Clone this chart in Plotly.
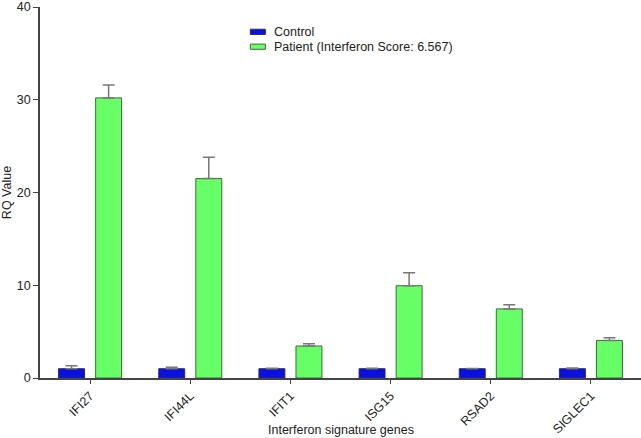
import plotly.graph_objects as go

genes = ["IFI27", "IFI44L", "IFIT1", "ISG15", "RSAD2", "SIGLEC1"]
control = [1.0, 1.0, 1.0, 1.0, 1.0, 1.0]
control_err = [0.33, 0.15, 0.04, 0.06, 0.02, 0.08]
patient = [30.2, 21.5, 3.45, 9.95, 7.45, 4.05]
patient_err = [1.4, 2.3, 0.25, 1.4, 0.45, 0.3]
series_names = ["Control", "Patient (Interferon Score: 6.567)"]
colors = ["#0a10e0", "#66ff66"]
edges = ["#2a2a6a", "#3f6a3f"]

fig = go.Figure()
fig.add_trace(go.Bar(
    x=genes, y=control, name=series_names[0],
    marker=dict(color=colors[0], line=dict(color=edges[0], width=1)),
    error_y=dict(type="data", array=control_err, symmetric=False, arrayminus=[0]*6,
                 color="#777777", thickness=1.5, width=6),
))
fig.add_trace(go.Bar(
    x=genes, y=patient, name=series_names[1],
    marker=dict(color=colors[1], line=dict(color=edges[1], width=1)),
    error_y=dict(type="data", array=patient_err, symmetric=False, arrayminus=[0]*6,
                 color="#777777", thickness=1.5, width=6),
))

# manual legend (wide flat swatches as in the reference)
leg_y = [0.933, 0.893]
for i, name in enumerate(series_names):
    fig.add_shape(type="rect", xref="paper", yref="paper",
                  x0=0.35, x1=0.375, y0=leg_y[i] - 0.007, y1=leg_y[i] + 0.007,
                  fillcolor=colors[i], line=dict(color=edges[i], width=1))
    fig.add_annotation(xref="paper", yref="paper", x=0.386, y=leg_y[i],
                       xanchor="left", yanchor="middle", text=name,
                       showarrow=False, font=dict(size=12.5))

fig.add_annotation(xref="paper", yref="paper", x=0.5, y=-0.14,
                   xanchor="center", yanchor="middle",
                   text="Interferon signature genes", showarrow=False,
                   font=dict(size=12.5))

fig.update_layout(
    width=641, height=438,
    margin=dict(l=40, r=0, t=7, b=60, autoexpand=False),
    paper_bgcolor="white", plot_bgcolor="white",
    barmode="group", bargap=0.26, bargroupgap=0.3,
    font=dict(family="Liberation Sans, Arial, sans-serif", size=12.5, color="#222222"),
    showlegend=False,
    xaxis=dict(
        range=[-0.5, 5.5], showline=True, linecolor="#444444", linewidth=1.5,
        ticks="outside", ticklen=4, tickcolor="#444444", tickangle=-45,
        showgrid=False, zeroline=False, automargin=False,
    ),
    yaxis=dict(
        range=[0, 40], tickvals=[0, 10, 20, 30, 40], showline=True,
        linecolor="#444444", linewidth=1.5, ticks="outside", ticklen=5,
        tickcolor="#444444", showgrid=False, zeroline=False, automargin=False,
        title=dict(text="RQ Value", standoff=4, font=dict(size=12.5)),
    ),
)

fig.write_html("out.html", config={"displayModeBar": False},
               post_script="document.body.style.margin='0';document.body.style.overflow='hidden';")
